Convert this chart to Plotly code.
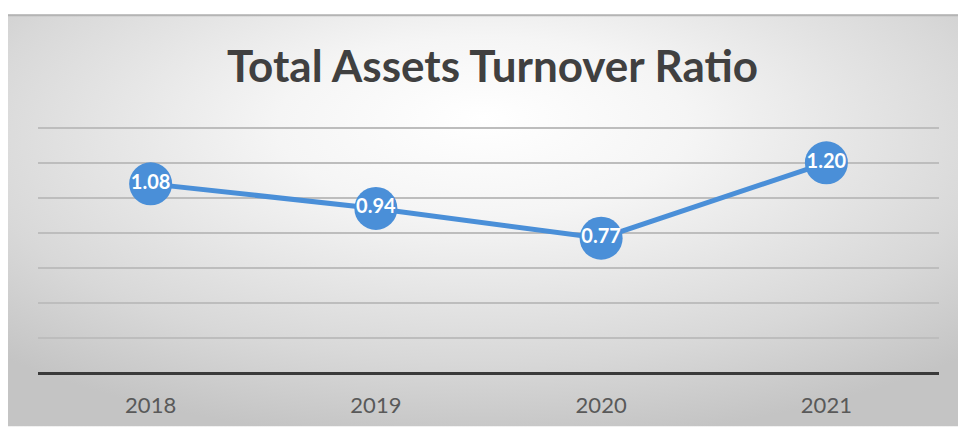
import base64
import plotly.graph_objects as go

# Chart data
years = ["2018", "2019", "2020", "2021"]
turnover = [1.08, 0.94, 0.77, 1.20]
value_labels = ["1.08", "0.94", "0.77", "1.20"]
title_text = "Total Assets Turnover Ratio"

W, H = 958, 430
L, R, T, B = 38, 19, 119, 45
plot_w = W - L - R
plot_h = H - T - B

FONT = "Lato, 'Open Sans', sans-serif"

# Soft radial backdrop (white centre fading to grey edges)
svg = (
    '<svg xmlns="http://www.w3.org/2000/svg" width="950" height="417" '
    'viewBox="0 0 950 417" preserveAspectRatio="none">'
    '<defs><radialGradient id="g" cx="0.5" cy="0.32" r="0.72" fx="0.5" fy="0.25">'
    '<stop offset="0" stop-color="#ffffff"/>'
    '<stop offset="0.3" stop-color="#f5f5f5"/>'
    '<stop offset="0.75" stop-color="#d8d8d8"/>'
    '<stop offset="1" stop-color="#c4c4c4"/>'
    '</radialGradient></defs>'
    '<rect width="950" height="417" fill="url(#g)"/>'
    '</svg>'
)
bg_src = "data:image/svg+xml;base64," + base64.b64encode(svg.encode()).decode()

# backdrop box in pixels -> paper coordinates
bx0, by0 = 8, 13
px = lambda x: (x - L) / plot_w
py = lambda y: (H - B - y) / plot_h

fig = go.Figure()
fig.add_trace(go.Scatter(
    x=years, y=turnover,
    mode="lines+markers+text",
    line=dict(color="#4a8fd8", width=5),
    marker=dict(size=43, color="#4a8fd8"),
    text=value_labels,
    textposition="middle center",
    textfont=dict(family=FONT, size=20, color="white", weight="bold"),
    cliponaxis=False,
    hoverinfo="x+y",
))

fig.add_layout_image(dict(
    source=bg_src, xref="paper", yref="paper",
    x=px(bx0), y=py(by0), sizex=px(W) - px(bx0), sizey=py(by0) - py(H),
    xanchor="left", yanchor="top", sizing="stretch", layer="below",
))

fig.add_shape(type="line", xref="paper", yref="paper",
              x0=px(bx0), x1=px(W), y0=py(by0 + 1), y1=py(by0 + 1),
              line=dict(color="#b4b4b4", width=2))

fig.add_annotation(
    text="<b>" + title_text + "</b>", xref="paper", yref="paper",
    x=px(492), y=py(64), xanchor="center", yanchor="middle", showarrow=False,
    font=dict(family=FONT, size=44, color="#404040"),
)

fig.update_layout(
    width=W, height=H,
    margin=dict(l=L, r=R, t=T, b=B),
    paper_bgcolor="white", plot_bgcolor="rgba(0,0,0,0)",
    showlegend=False,
    xaxis=dict(
        type="category", range=[-0.5, 3.5],
        showgrid=False, showline=False, zeroline=False, ticks="",
        tickfont=dict(family=FONT, size=22, color="#595959"),
        ticklabelstandoff=8,
    ),
    yaxis=dict(
        range=[-0.05, 1.45], dtick=0.2, tick0=0,
        showticklabels=False, ticks="",
        showgrid=True, gridcolor="#bdbdbd", gridwidth=2,
        zeroline=True, zerolinecolor="#3a3a3a", zerolinewidth=3,
        showline=False,
    ),
)

fig.write_html("out.html")
